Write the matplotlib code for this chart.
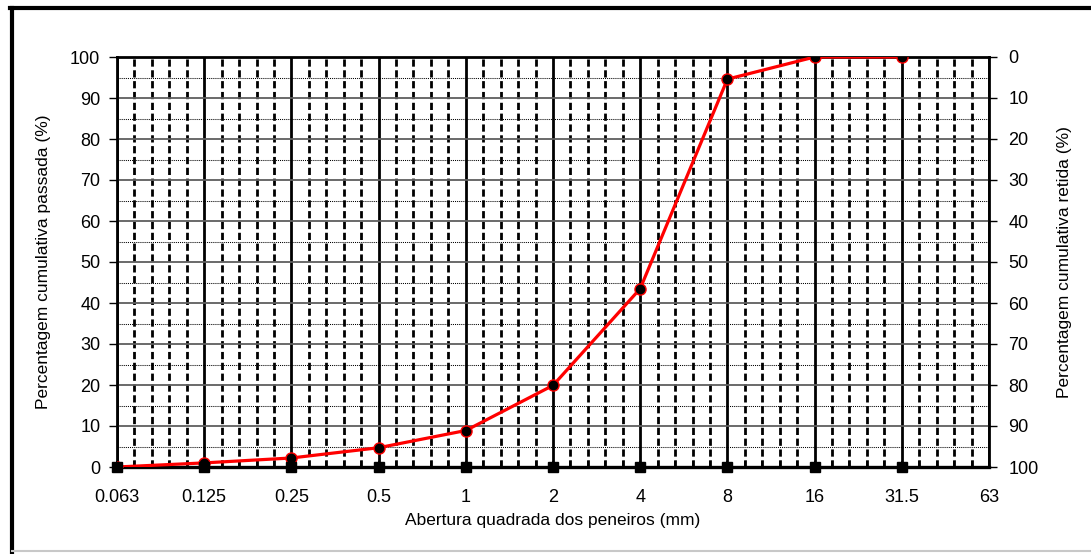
import numpy as np
import matplotlib
matplotlib.use("Agg")
import matplotlib.pyplot as plt
from matplotlib.ticker import MultipleLocator
from matplotlib.lines import Line2D

plt.rcParams['font.family'] = ['Liberation Sans', 'DejaVu Sans']

# Dados
peneiros = ["0.063", "0.125", "0.25", "0.5", "1", "2", "4", "8", "16", "31.5", "63"]
passados = [0.0, 1.0, 2.2, 4.7, 8.9, 19.9, 43.5, 94.6, 100.0, 100.0]
fundo = [0, 0, 0, 0, 0, 0, 0, 0, 0, 0]

pos = np.arange(len(peneiros))
pos_dados = pos[:len(passados)]

fig = plt.figure(figsize=(10.91, 5.54), dpi=100)
ax = fig.add_axes([117/1091, 1 - 467/554, (989 - 117)/1091, (467 - 57)/554])

ax.set_xlim(pos[0], pos[-1])
ax.set_ylim(0, 100)
ax.set_xticks(pos)
ax.set_xticklabels(peneiros)
ax.xaxis.set_minor_locator(MultipleLocator(0.2))
ax.set_yticks(np.arange(0, 101, 10))
ax.yaxis.set_minor_locator(MultipleLocator(5))

# grelha
ax.grid(which="major", axis="x", color="black", lw=2.0)
ax.grid(which="minor", axis="x", color="black", lw=2.0, linestyle=(0, (2.6, 1.3)))
ax.grid(which="major", axis="y", color="#5e5e5e", lw=1.3)
ax.grid(which="minor", axis="y", color="black", lw=0.75, linestyle=(0, (1, 1)))
ax.set_axisbelow(True)

ax.plot(pos_dados, passados, color="red", lw=2.3, marker="o", ms=8,
        mfc="black", mec="red", mew=1.0, zorder=3)
ax.plot(pos_dados, fundo, ls="none", marker="s", ms=7.5, color="black",
        zorder=4, clip_on=False)

for s in ["left", "right", "top"]:
    ax.spines[s].set_linewidth(2.0)
ax.spines["bottom"].set_linewidth(2.4)

ax.tick_params(axis="x", which="major", direction="in", length=4, width=1.2,
               pad=16, labelsize=13)
ax.tick_params(axis="x", which="minor", direction="in", length=4, width=1.2)
ax.tick_params(axis="y", which="major", direction="out", length=6, width=1.0,
               pad=6, labelsize=13)
ax.tick_params(axis="y", which="minor", length=0)

ax.set_xlabel("Abertura quadrada dos peneiros (mm)", fontsize=12.5, labelpad=5)
ax.set_ylabel("Percentagem cumulativa passada (%)", fontsize=12.5, labelpad=14)

ax2 = ax.twinx()
ax2.set_ylim(100, 0)
ax2.set_yticks(np.arange(0, 101, 10))
ax2.tick_params(axis="y", direction="out", length=6, width=1.0, pad=8, labelsize=13)
for s in ax2.spines.values():
    s.set_visible(False)
ax2.set_ylabel("Percentagem cumulativa retida (%)", fontsize=12.5, labelpad=13)

# moldura do gráfico
fig.add_artist(Line2D([10/1091, 1], [1 - 8/554, 1 - 8/554], color="black", lw=3,
                      transform=fig.transFigure))
fig.add_artist(Line2D([12/1091, 12/1091], [0, 1 - 8/554], color="black", lw=3,
                      transform=fig.transFigure))
fig.add_artist(Line2D([12/1091, 1], [1 - 551/554, 1 - 551/554], color="#c8c8c8", lw=1.5,
                      transform=fig.transFigure))

fig.savefig("out.png", dpi=100)
